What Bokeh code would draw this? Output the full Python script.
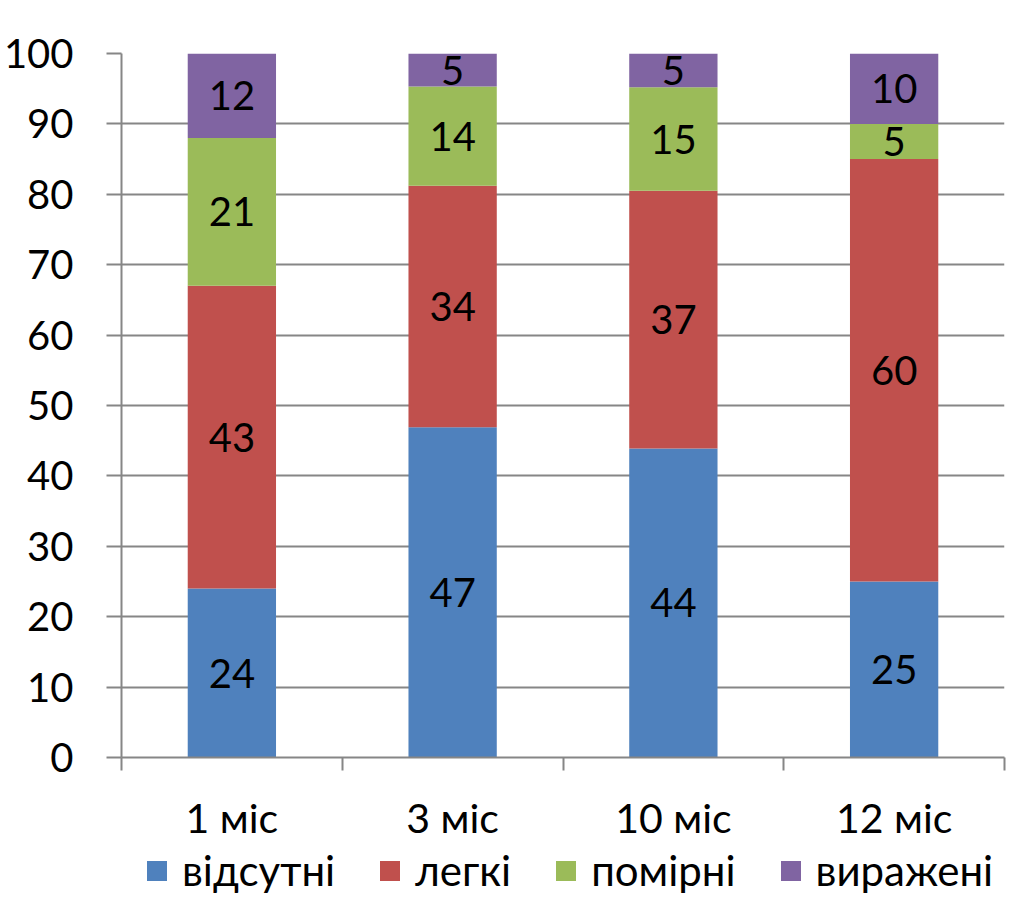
from bokeh.plotting import figure
from bokeh.models import FixedTicker, ColumnDataSource, Legend, LegendItem, Range1d
from bokeh.layouts import column
from bokeh.core.properties import value
from bokeh.embed import file_html
from bokeh.resources import INLINE

categories = ["1 міс", "3 міс", "10 міс", "12 міс"]
series_names = ["відсутні", "легкі", "помірні", "виражені"]
absent = [24, 46.9, 43.9, 25]
mild = [43, 34.3, 36.6, 60]
moderate = [21, 14.1, 14.7, 5]
severe = [12, 4.7, 4.8, 10]
y_ticks = [0, 10, 20, 30, 40, 50, 60, 70, 80, 90, 100]
colors = ["#4F81BD", "#C0504D", "#9BBB59", "#8064A2"]

FONT = "Lato"
GRAY = "#868686"

keys = ["absent", "mild", "moderate", "severe"]
series = [absent, mild, moderate, severe]
xs = [i + 0.5 for i in range(len(categories))]
data = dict(x=xs)
for k, s in zip(keys, series):
    data[k] = s
source = ColumnDataSource(data)

p = figure(frame_width=883, frame_height=704, x_range=Range1d(0, len(categories)), y_range=Range1d(0, 100),
           output_backend="svg", toolbar_location=None,
           min_border_left=112, min_border_right=16, min_border_top=53, min_border_bottom=0)
p.outline_line_color = None
p.background_fill_color = "white"

renderers = p.vbar_stack(keys, x="x", width=0.4, color=colors, source=source, line_color=None)

# segment labels
lx, ly, lt = [], [], []
for i in range(len(categories)):
    bottom = 0
    for s in series:
        v = s[i]
        lx.append(xs[i])
        ly.append(bottom + v / 2)
        lt.append(str(int(round(v))))
        bottom += v
p.text(x=lx, y=ly, text=lt, text_align="center", text_baseline="middle",
       text_font=value(FONT), text_font_size="40px", text_color="black")

# axes
p.xgrid.visible = False
p.ygrid.grid_line_color = GRAY
p.ygrid.grid_line_width = 2
p.yaxis.ticker = FixedTicker(ticks=y_ticks)
p.yaxis.axis_line_color = GRAY
p.yaxis.axis_line_width = 2
p.yaxis.major_tick_line_color = GRAY
p.yaxis.major_tick_line_width = 2
p.yaxis.major_tick_out = 15
p.yaxis.major_tick_in = 0
p.yaxis.minor_tick_line_color = None
p.yaxis.major_label_standoff = 33
p.yaxis.major_label_text_font = FONT
p.yaxis.major_label_text_font_size = "40px"
p.yaxis.major_label_text_color = "black"

p.xaxis.ticker = FixedTicker(ticks=xs, minor_ticks=list(range(len(categories) + 1)))
p.xaxis.major_label_overrides = {x: c for x, c in zip(xs, categories)}
p.xaxis.axis_line_color = GRAY
p.xaxis.axis_line_width = 2
p.xaxis.major_tick_line_color = None
p.xaxis.major_tick_out = 0
p.xaxis.major_tick_in = 0
p.xaxis.minor_tick_line_color = GRAY
p.xaxis.minor_tick_line_width = 2
p.xaxis.minor_tick_out = 13
p.xaxis.minor_tick_in = 0
p.xaxis.major_label_standoff = 22
p.xaxis.major_label_text_font = FONT
p.xaxis.major_label_text_font_size = "41px"
p.xaxis.major_label_text_color = "black"

# legend strip below the chart
p2 = figure(width=1011, height=70, x_range=Range1d(0, len(categories)), y_range=Range1d(200, 300),
            output_backend="svg", toolbar_location=None, x_axis_location=None, y_axis_location=None,
            min_border_left=0, min_border_right=0, min_border_top=0, min_border_bottom=0)
p2.outline_line_color = None
p2.xgrid.visible = False
p2.ygrid.visible = False
leg_renderers = p2.vbar_stack(keys, x="x", width=0.4, color=colors, source=source, line_color=None)

legend = Legend(items=[LegendItem(label=n, renderers=[r]) for n, r in zip(series_names, leg_renderers)],
                orientation="horizontal", location=(23, 19),
                glyph_width=25, glyph_height=25, label_standoff=13, spacing=42,
                padding=0, margin=0, border_line_color=None, background_fill_alpha=0,
                label_text_font=FONT, label_text_font_size="42px", label_text_color="black")
p2.add_layout(legend)

open("out.html", "w").write(file_html(column(p, p2, spacing=0), INLINE))
